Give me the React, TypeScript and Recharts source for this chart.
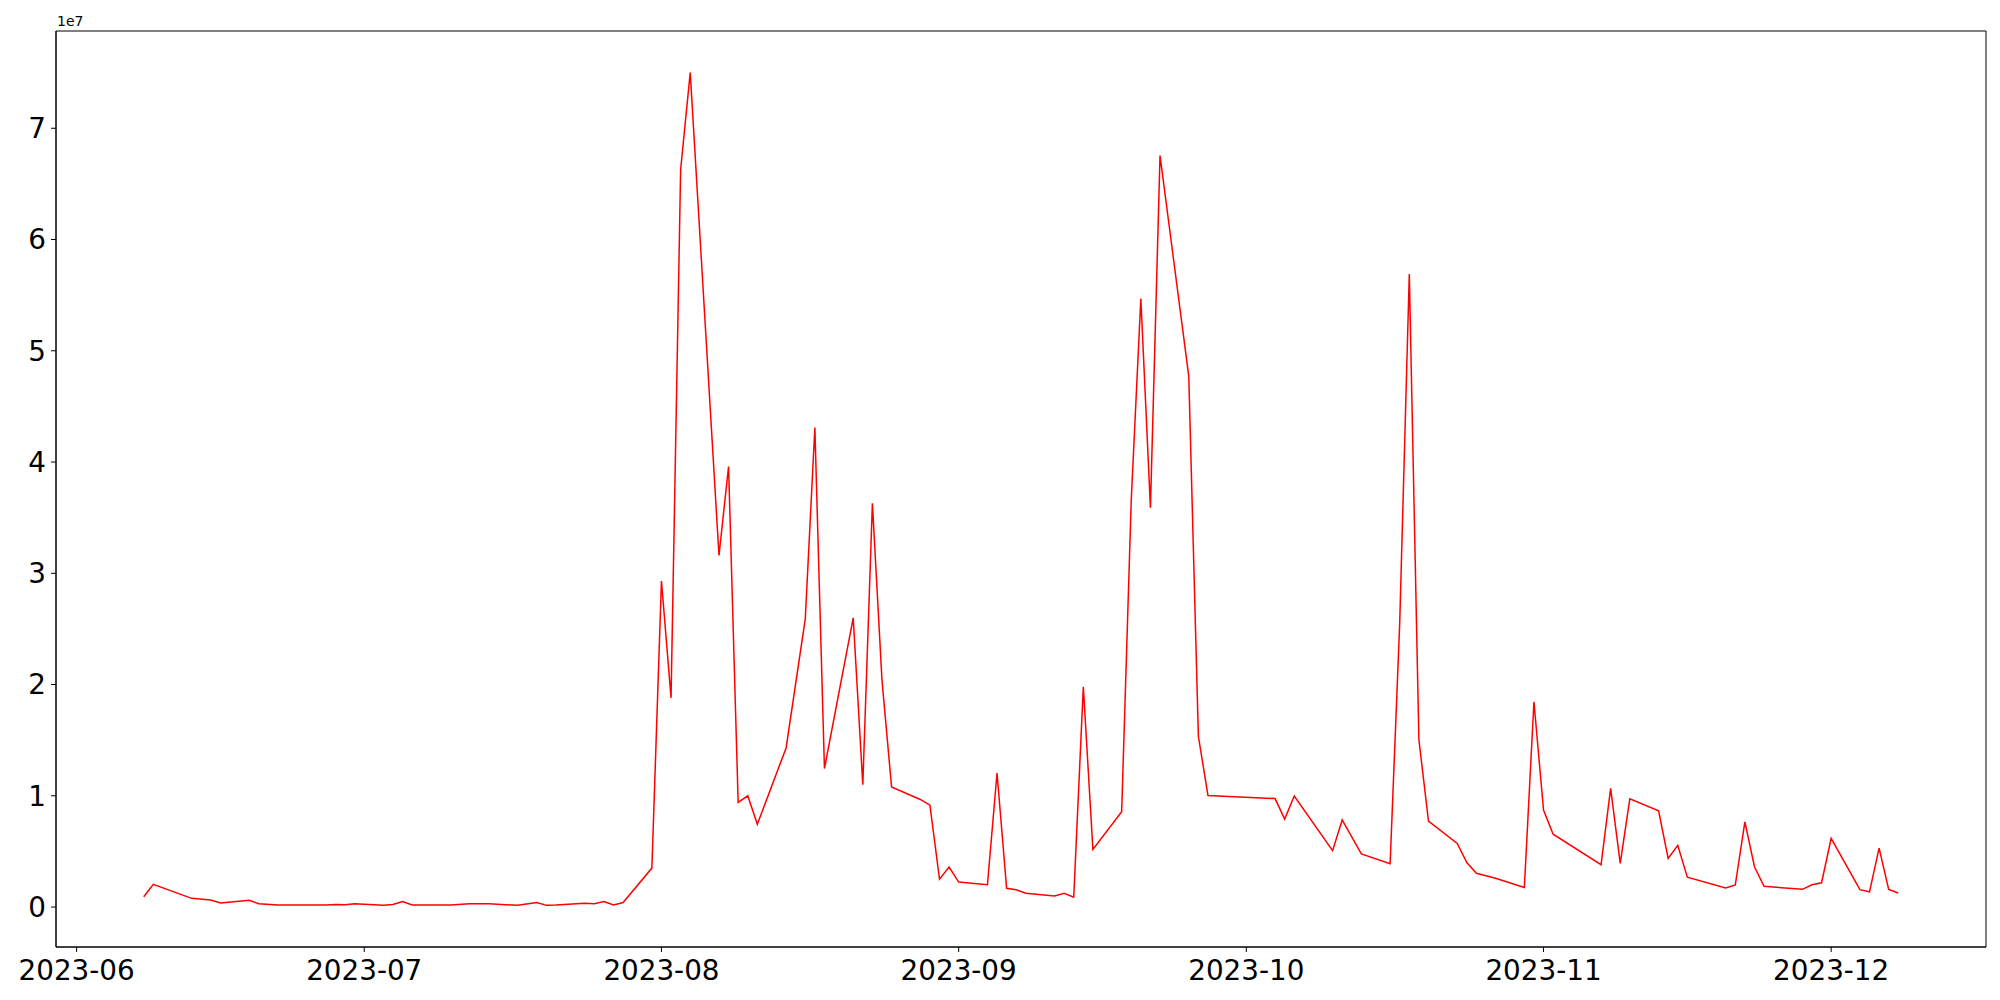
import { LineChart, Line, XAxis, YAxis, ReferenceArea } from 'recharts';

const DATES = [
  '2023-06-08', '2023-06-09', '2023-06-13', '2023-06-15', '2023-06-16', '2023-06-19', '2023-06-20',
  '2023-06-22', '2023-06-27', '2023-06-28', '2023-06-29', '2023-06-30', '2023-07-03', '2023-07-04',
  '2023-07-05', '2023-07-06', '2023-07-10', '2023-07-12', '2023-07-14', '2023-07-17', '2023-07-19',
  '2023-07-20', '2023-07-21', '2023-07-24', '2023-07-25', '2023-07-26', '2023-07-27', '2023-07-28',
  '2023-07-31', '2023-08-01', '2023-08-02', '2023-08-03', '2023-08-04', '2023-08-07', '2023-08-08',
  '2023-08-09', '2023-08-10', '2023-08-11', '2023-08-14', '2023-08-16', '2023-08-17', '2023-08-18',
  '2023-08-21', '2023-08-22', '2023-08-23', '2023-08-24', '2023-08-25', '2023-08-28', '2023-08-29',
  '2023-08-30', '2023-08-31', '2023-09-01', '2023-09-04', '2023-09-05', '2023-09-06', '2023-09-07',
  '2023-09-08', '2023-09-11', '2023-09-12', '2023-09-13', '2023-09-14', '2023-09-15', '2023-09-18',
  '2023-09-19', '2023-09-20', '2023-09-21', '2023-09-22', '2023-09-25', '2023-09-26', '2023-09-27',
  '2023-10-04', '2023-10-05', '2023-10-06', '2023-10-10', '2023-10-11', '2023-10-13', '2023-10-16',
  '2023-10-17', '2023-10-18', '2023-10-19', '2023-10-20', '2023-10-23', '2023-10-24', '2023-10-25',
  '2023-10-27', '2023-10-30', '2023-10-31', '2023-11-01', '2023-11-02', '2023-11-07', '2023-11-08',
  '2023-11-09', '2023-11-10', '2023-11-13', '2023-11-14', '2023-11-15', '2023-11-16', '2023-11-20',
  '2023-11-21', '2023-11-22', '2023-11-23', '2023-11-24', '2023-11-28', '2023-11-29', '2023-11-30',
  '2023-12-01', '2023-12-04', '2023-12-05', '2023-12-06', '2023-12-07', '2023-12-08',
];

// volume, units of 1e7
const VOLUMES = [
  0.093, 0.204, 0.078, 0.063, 0.036, 0.06, 0.03,
  0.018, 0.018, 0.022, 0.02, 0.03, 0.015, 0.022,
  0.05, 0.018, 0.018, 0.03, 0.03, 0.015, 0.04,
  0.015, 0.018, 0.035, 0.03, 0.05, 0.018, 0.04,
  0.35, 2.93, 1.88, 6.63, 7.5, 3.16, 3.96,
  0.94, 1.0, 0.745, 1.43, 2.59, 4.31, 1.245,
  2.6, 1.1, 3.63, 2.04, 1.08, 0.967, 0.916,
  0.251, 0.359, 0.224, 0.2, 1.205, 0.169, 0.155,
  0.124, 0.1, 0.124, 0.088, 1.98, 0.517, 0.857,
  3.66, 5.47, 3.59, 6.755, 4.77, 1.535, 1.003,
  0.975, 0.79, 0.998, 0.507, 0.783, 0.477, 0.389,
  2.55, 5.69, 1.506, 0.772, 0.572, 0.4, 0.304,
  0.259, 0.175, 1.845, 0.871, 0.655, 0.38, 1.066,
  0.392, 0.973, 0.865, 0.437, 0.554, 0.269, 0.171,
  0.198, 0.766, 0.362, 0.186, 0.159, 0.2, 0.218,
  0.617, 0.156, 0.137, 0.53, 0.159, 0.126,
];

const MONTH_TICKS = ['2023-06-01', '2023-07-01', '2023-08-01', '2023-09-01', '2023-10-01', '2023-11-01', '2023-12-01'];
const Y_TICKS = [0, 1, 2, 3, 4, 5, 6, 7];

const toTime = (d: string) => Date.parse(d + 'T00:00:00Z');

const data = DATES.map((d, i) => ({ t: toTime(d), v: VOLUMES[i] * 1e7 }));

// matplotlib-style 5% margins
const tMin = data[0].t;
const tMax = data[data.length - 1].t;
const tPad = (tMax - tMin) * 0.05;
const vMin = Math.min(...data.map((d) => d.v));
const vMax = Math.max(...data.map((d) => d.v));
const vPad = (vMax - vMin) * 0.05;
const xDomain: [number, number] = [tMin - tPad, tMax + tPad];
const yDomain: [number, number] = [vMin - vPad, vMax + vPad];

const FONT = '"DejaVu Sans", sans-serif';
const tickStyle = { fill: '#000', fontSize: 27.8, fontFamily: FONT };

function fmtMonth(t: number) {
  const d = new Date(t);
  return `${d.getUTCFullYear()}-${String(d.getUTCMonth() + 1).padStart(2, '0')}`;
}

export default function App() {
  return (
    <div style={{ position: 'relative', width: 2000, height: 1000, background: '#fff' }}>
      <style>{'body{margin:0;}'}</style>
      <LineChart width={2000} height={1000} data={data} margin={{ top: 31, right: 14, bottom: 0, left: 0 }}>
        <XAxis
          dataKey="t"
          type="number"
          domain={xDomain}
          allowDataOverflow
          ticks={MONTH_TICKS.map(toTime)}
          tickFormatter={fmtMonth}
          tick={tickStyle}
          tickSize={5}
          tickMargin={8}
          height={53}
          stroke="#000"
        />
        <YAxis
          type="number"
          domain={yDomain}
          allowDataOverflow
          ticks={Y_TICKS.map((v) => v * 1e7)}
          tickFormatter={(v: number) => String(Math.round(v / 1e7))}
          tick={tickStyle}
          tickSize={5}
          tickMargin={5}
          width={56}
          stroke="#000"
        />
        <ReferenceArea x1={xDomain[0]} x2={xDomain[1]} y1={yDomain[0]} y2={yDomain[1]} fill="none" stroke="#000" strokeWidth={1} />
        <Line type="linear" dataKey="v" stroke="#ff0000" strokeWidth={1.5} dot={false} isAnimationActive={false} />
      </LineChart>
      <div style={{ position: 'absolute', left: 57, top: 14, fontFamily: FONT, fontSize: 14, lineHeight: '14px', color: '#000' }}>1e7</div>
    </div>
  );
}
